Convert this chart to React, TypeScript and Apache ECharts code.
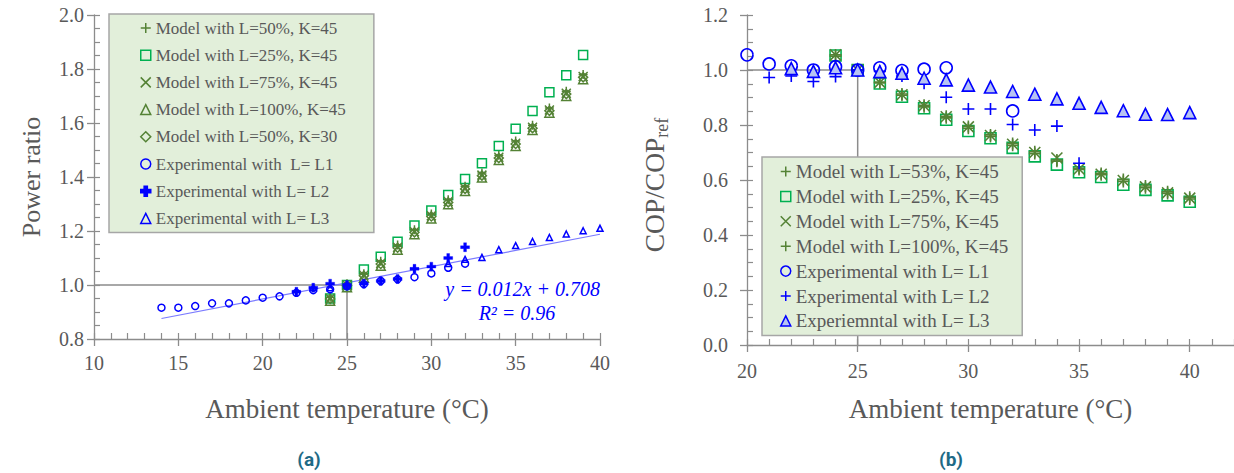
import React, { useEffect, useRef } from "react";
import * as echarts from "echarts";

// ---------- Data: chart (a) Power ratio ----------
const aModelX = [24, 25, 26, 27, 28, 29, 30, 31, 32, 33, 34, 35, 36, 37, 38, 39];
const aL50K45 = [0.955, 1.005, 1.042, 1.088, 1.148, 1.205, 1.263, 1.316, 1.366, 1.415, 1.481, 1.533, 1.592, 1.656, 1.718, 1.78];
const aL25K45 = [0.95, 1.0, 1.057, 1.105, 1.16, 1.22, 1.276, 1.333, 1.393, 1.451, 1.515, 1.579, 1.644, 1.714, 1.777, 1.852];
const aL75K45 = [0.95, 1.0, 1.036, 1.08, 1.14, 1.197, 1.256, 1.309, 1.358, 1.407, 1.473, 1.525, 1.584, 1.648, 1.71, 1.772];
const aL100K45 = [0.942, 0.992, 1.027, 1.071, 1.131, 1.188, 1.246, 1.299, 1.348, 1.398, 1.463, 1.515, 1.574, 1.638, 1.7, 1.762];
const aL50K30 = [0.948, 0.998, 1.034, 1.078, 1.138, 1.195, 1.254, 1.306, 1.356, 1.405, 1.47, 1.522, 1.581, 1.645, 1.707, 1.769];

const aExp1X = [14, 15, 16, 17, 18, 19, 20, 21, 22, 23, 24, 25, 26, 27, 28, 29, 30, 31, 32];
const aExp1Y = [0.916, 0.916, 0.922, 0.932, 0.932, 0.943, 0.953, 0.958, 0.971, 0.981, 0.984, 0.995, 1.003, 1.015, 1.021, 1.029, 1.043, 1.064, 1.079];
const aExp2X = [22, 23, 24, 25, 26, 27, 28, 29, 30, 31, 32];
const aExp2Y = [0.975, 0.99, 1.005, 1.0, 1.005, 1.015, 1.022, 1.06, 1.068, 1.1, 1.14];
const aExp3X = [23, 24, 25, 31, 32, 33, 34, 35, 36, 37, 38, 39, 40];
const aExp3Y = [0.99, 0.99, 1.0, 1.08, 1.095, 1.102, 1.131, 1.146, 1.161, 1.176, 1.189, 1.201, 1.21];

const aFitX = [14, 40];
const aFitY = [0.876, 1.188];
const aRefX = [10, 25, 25];
const aRefY = [1.0, 1.0, 0.8];

// ---------- Data: chart (b) COP/COPref ----------
const bModelX = [24, 25, 26, 27, 28, 29, 30, 31, 32, 33, 34, 35, 36, 37, 38, 39, 40];
const bL53K45 = [1.055, 1.0, 0.956, 0.913, 0.872, 0.832, 0.795, 0.764, 0.733, 0.703, 0.673, 0.643, 0.624, 0.602, 0.578, 0.557, 0.537];
const bL25K45 = [1.053, 1.0, 0.951, 0.903, 0.861, 0.819, 0.778, 0.752, 0.717, 0.686, 0.656, 0.628, 0.611, 0.583, 0.564, 0.544, 0.521];
const bL75K45 = [1.055, 1.0, 0.955, 0.91, 0.87, 0.83, 0.793, 0.762, 0.73, 0.7, 0.68, 0.64, 0.621, 0.598, 0.575, 0.553, 0.534];
const bL100K45 = [1.05, 1.0, 0.953, 0.908, 0.866, 0.826, 0.788, 0.758, 0.726, 0.696, 0.668, 0.638, 0.619, 0.595, 0.572, 0.551, 0.531];

const bExp1X = [20, 21, 22, 23, 24, 25, 26, 27, 28, 29, 32];
const bExp1Y = [1.055, 1.022, 1.015, 1.0, 1.012, 1.0, 1.008, 0.998, 1.003, 1.008, 0.851];
const bExp2X = [21, 22, 23, 24, 25, 26, 27, 28, 29, 30, 31, 32, 33, 34, 35];
const bExp2Y = [0.973, 0.978, 0.958, 0.976, 1.0, 0.995, 0.978, 0.952, 0.901, 0.858, 0.858, 0.802, 0.782, 0.796, 0.661];
const bExp3X = [22, 23, 24, 25, 26, 27, 28, 29, 30, 31, 32, 33, 34, 35, 36, 37, 38, 39, 40];
const bExp3Y = [1.005, 0.995, 1.008, 1.0, 0.994, 0.988, 0.97, 0.964, 0.945, 0.938, 0.922, 0.912, 0.895, 0.879, 0.864, 0.852, 0.839, 0.838, 0.845];

const bRefX = [20, 25, 25];
const bRefY = [1.0, 1.0, 0.0];

// ---------- Labels ----------
const aNames = [
  "Model with L=50%, K=45",
  "Model with L=25%, K=45",
  "Model with L=75%, K=45",
  "Model with L=100%, K=45",
  "Model with L=50%, K=30",
  "Experimental with  L= L1",
  "Experimental with L= L2",
  "Experimental with L= L3",
];
// trailing spaces keep series names unique between the two panels; trimmed in the legend
const bNames = [
  "Model with L=53%, K=45",
  "Model with L=25%, K=45 ",
  "Model with L=75%, K=45 ",
  "Model with L=100%, K=45 ",
  "Experimental with L= L1",
  "Experimental with L= L2 ",
  "Experiemntal with L= L3",
];
const xTitle = "Ambient temperature (°C)";
const aYTitle = "Power ratio";
const eqText = "y = 0.012x + 0.708";
const r2Text = "R² = 0.96";

const SERIF = "'Liberation Serif', 'Times New Roman', serif";
const GRAY = "#595959";
const AXIS = "#8C8C8C";
const DKGREEN = "#548235";
const BRGREEN = "#00B050";
const BLUE = "#0000FF";

const PLUS = "path://M0,5L10,5M5,0L5,10";
const CROSS = "path://M0,0L10,10M10,0L0,10";
const BOLDPLUS = "path://M3.4,0H6.6V3.4H10V6.6H6.6V10H3.4V6.6H0V3.4H3.4Z";

const zip = (xs: number[], ys: number[]) => xs.map((x, i) => [x, ys[i]]);

function mainX(gridIndex: number, min: number, max: number, nameGap: number, margin: number) {
  return {
    type: "value",
    gridIndex,
    min,
    max,
    interval: 5,
    position: "bottom",
    axisLine: { show: true, onZero: false, lineStyle: { color: AXIS, width: 1.3 } },
    axisTick: { show: true, inside: false, length: 7, lineStyle: { color: AXIS, width: 1.3 } },
    axisLabel: { fontSize: 20, color: GRAY, fontFamily: SERIF, margin, showMaxLabel: max % 5 === 0 },
    splitLine: { show: false },
    name: xTitle,
    nameLocation: "middle",
    nameGap,
    nameTextStyle: { fontSize: 27, color: GRAY, fontFamily: SERIF },
  };
}
function minorX(gridIndex: number, min: number, max: number) {
  return {
    type: "value",
    gridIndex,
    min,
    max,
    interval: 1,
    position: "bottom",
    axisLine: { show: false, onZero: false },
    axisTick: { show: true, inside: true, length: 6, lineStyle: { color: AXIS, width: 1.2 } },
    axisLabel: { show: false },
    splitLine: { show: false },
  };
}
function mainY(gridIndex: number, min: number, max: number, name: string, nameGap: number, labelMargin: number, extra: any) {
  return {
    type: "value",
    gridIndex,
    min,
    max,
    interval: 0.2,
    position: "left",
    axisLine: { show: true, onZero: false, lineStyle: { color: AXIS, width: 1.3 } },
    axisTick: { show: true, inside: false, length: 7, lineStyle: { color: AXIS, width: 1.3 } },
    axisLabel: { fontSize: 20, color: GRAY, fontFamily: SERIF, margin: labelMargin, formatter: (v: number) => v.toFixed(1) },
    splitLine: { show: false },
    name,
    nameLocation: "middle",
    nameGap,
    nameRotate: 90,
    nameTextStyle: { fontSize: 26, color: GRAY, fontFamily: SERIF, ...extra },
  };
}
function minorY(gridIndex: number, min: number, max: number) {
  return {
    type: "value",
    gridIndex,
    min,
    max,
    interval: 0.05,
    position: "left",
    axisLine: { show: false, onZero: false },
    axisTick: { show: true, inside: true, length: 6, lineStyle: { color: AXIS, width: 1.2 } },
    axisLabel: { show: false },
    splitLine: { show: false },
  };
}

function scatter(name: string, xi: number, data: number[][], symbol: string, size: number, fill: string, stroke: string, bw: number) {
  return {
    type: "scatter",
    name,
    xAxisIndex: xi,
    yAxisIndex: xi,
    data,
    symbol,
    symbolSize: size,
    itemStyle: { color: fill, borderColor: stroke, borderWidth: bw, opacity: 1 },
    emphasis: { disabled: true },
    silent: true,
  };
}

function legend(names: string[], left: number, top: number, fontSize: number, lineHeight: number, gap: number, padding: number[]) {
  return {
    show: true,
    data: names,
    orient: "vertical",
    left,
    top,
    padding,
    itemGap: gap,
    itemWidth: 10,
    itemHeight: 10,
    selectedMode: false,
    backgroundColor: "#E2EFDA",
    borderColor: "#A6A6A6",
    borderWidth: 1.5,
    itemStyle: { borderWidth: 1.5 },
    formatter: (n: string) => n.trim(),
    textStyle: { fontSize, lineHeight, color: GRAY, fontFamily: SERIF },
  };
}

export default function App() {
  const ref = useRef<HTMLDivElement>(null);
  useEffect(() => {
    if (!ref.current) return;
    const chart = echarts.init(ref.current, undefined, { renderer: "svg" });
    const T = "rgba(0,0,0,0)";
    const option: any = {
      animation: false,
      backgroundColor: "#ffffff",
      grid: [
        { left: 94, top: 15, width: 506, height: 324 },
        { left: 747, top: 15, width: 489, height: 330 },
      ],
      xAxis: [mainX(0, 10, 40, 56, 14), minorX(0, 10, 40), mainX(1, 20, 42, 50, 16), minorX(1, 20, 42)],
      yAxis: [
        mainY(0, 0.8, 2.0, aYTitle, 50, 10, {}),
        minorY(0, 0.8, 2.0),
        mainY(1, 0, 1.2, "{a|COP/COP}{s|ref}", 76, 19, {
          padding: [0, 10, 0, 0],
          rich: {
            a: { fontSize: 27.5, color: GRAY, fontFamily: SERIF, lineHeight: 34, verticalAlign: "middle" },
            s: { fontSize: 18, color: GRAY, fontFamily: SERIF, lineHeight: 18, verticalAlign: "bottom" },
          },
        }),
        minorY(1, 0, 1.2),
      ],
      legend: [
        legend(aNames, 109, 14, 17, 20, 7.2, [4, 28, 4, 31]),
        legend(bNames, 762, 157, 19, 21, 3.9, [4, 14, 4, 18]),
      ],
      series: [
        // panel (a)
        {
          type: "line", xAxisIndex: 0, yAxisIndex: 0, data: zip(aRefX, aRefY), showSymbol: false, silent: true,
          lineStyle: { color: AXIS, width: 1.5 }, z: 1,
        },
        {
          type: "line", xAxisIndex: 0, yAxisIndex: 0, data: zip(aFitX, aFitY), showSymbol: false, silent: true,
          lineStyle: { color: "#7B7BFF", width: 1.2 }, z: 1,
        },
        scatter(aNames[1], 0, zip(aModelX, aL25K45), "rect", 9, T, BRGREEN, 1.5),
        scatter(aNames[0], 0, zip(aModelX, aL50K45), PLUS, 9, T, DKGREEN, 1.5),
        scatter(aNames[2], 0, zip(aModelX, aL75K45), CROSS, 9, T, DKGREEN, 1.5),
        scatter(aNames[3], 0, zip(aModelX, aL100K45), "triangle", 9, T, DKGREEN, 1.5),
        scatter(aNames[4], 0, zip(aModelX, aL50K30), "diamond", 9, T, DKGREEN, 1.5),
        scatter(aNames[5], 0, zip(aExp1X, aExp1Y), "circle", 7, T, BLUE, 1.5),
        scatter(aNames[6], 0, zip(aExp2X, aExp2Y), BOLDPLUS, 9, BLUE, BLUE, 0.3),
        scatter(aNames[7], 0, zip(aExp3X, aExp3Y), "triangle", 6, T, BLUE, 1.5),
        // panel (b)
        {
          type: "line", xAxisIndex: 2, yAxisIndex: 2, data: zip(bRefX, bRefY), showSymbol: false, silent: true,
          lineStyle: { color: AXIS, width: 1.5 }, z: 1,
        },
        scatter(bNames[1], 2, zip(bModelX, bL25K45), "rect", 11, T, BRGREEN, 1.6),
        scatter(bNames[0], 2, zip(bModelX, bL53K45), PLUS, 12, T, DKGREEN, 1.6),
        scatter(bNames[2], 2, zip(bModelX, bL75K45), CROSS, 11, T, DKGREEN, 1.6),
        scatter(bNames[3], 2, zip(bModelX, bL100K45), PLUS, 12, T, DKGREEN, 1.6),
        scatter(bNames[4], 2, zip(bExp1X, bExp1Y), "circle", 12, T, BLUE, 1.6),
        scatter(bNames[5], 2, zip(bExp2X, bExp2Y), PLUS, 12, T, BLUE, 1.6),
        scatter(bNames[6], 2, zip(bExp3X, bExp3Y), "triangle", 12, "#B7C3F3", BLUE, 1.6),
      ],
      graphic: [
        {
          type: "text", x: 600, y: 289, z: 100,
          style: { text: eqText, fill: BLUE, font: `italic 20px ${SERIF}`, align: "right", verticalAlign: "middle" },
        },
        {
          type: "text", x: 517, y: 313, z: 100,
          style: { text: r2Text, fill: BLUE, font: `italic 20px ${SERIF}`, align: "center", verticalAlign: "middle" },
        },
        {
          type: "text", x: 309, y: 459, z: 100,
          style: { text: "(a)", fill: "#1E6A86", font: "bold 19px Roboto, sans-serif", align: "center", verticalAlign: "middle" },
        },
        {
          type: "text", x: 951, y: 459, z: 100,
          style: { text: "(b)", fill: "#1E6A86", font: "bold 19px Roboto, sans-serif", align: "center", verticalAlign: "middle" },
        },
      ],
    };
    chart.setOption(option);
    return () => chart.dispose();
  }, []);
  return (
    <div
      ref={ref}
      style={{ position: "absolute", left: 0, top: 0, width: 1234, height: 473, overflow: "hidden", background: "#fff" }}
    />
  );
}
